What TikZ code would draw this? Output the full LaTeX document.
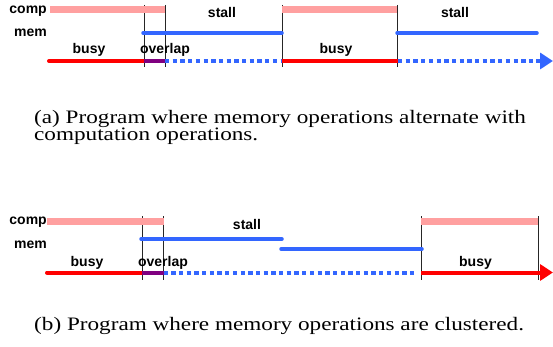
\documentclass[tikz,border=0pt]{standalone}
\usepackage{fontspec}
\setmainfont{Liberation Serif}
\setsansfont{Liberation Sans}
\usepackage{graphicx}
\usetikzlibrary{arrows.meta}

\definecolor{compPink}{RGB}{255,160,160}
\definecolor{memBlue}{RGB}{51,102,255}
\definecolor{busyRed}{RGB}{255,0,0}
\definecolor{overPurple}{RGB}{128,0,128}

\begin{document}
\begin{tikzpicture}[
    x=1pt, y=-1pt,
    lbl/.style={font=\sffamily\bfseries\fontsize{14}{14}\selectfont, inner sep=0pt},
    compbar/.style={compPink, line width=7pt},
    memline/.style={memBlue, line width=3.5pt, line cap=round},
    busyline/.style={busyRed, line width=4pt},
    waitline/.style={memBlue, line width=4pt, dash pattern=on 4.3pt off 3.4pt},
    overline/.style={overPurple, line width=4pt},
    marker/.style={black!85, line width=0.8pt},
    tip/.style={-{Triangle[length=13pt, width=16pt]}},
    captext/.style={font=\fontsize{19}{19}\selectfont, inner sep=0pt, anchor=base west}
]
    \useasboundingbox (0,0) rectangle (553,347);

    % ================= (a) ALTERNATING =================
    \draw[marker] (144,5) -- (144,67);
    \draw[marker] (165,5) -- (165,67);
    \draw[marker] (282,5) -- (282,67);
    \draw[marker] (397,5) -- (397,67);

    \draw[compbar] (50,10) -- (165,10);
    \draw[compbar] (282,10) -- (397,10);

    \draw[memline] (143,33) -- (282,33);
    \draw[memline] (397,33) -- (537,33);

    \draw[busyline, line cap=round] (49,61) -- (144,61);
    \draw[overline] (144,61) -- (165,61);
    \draw[waitline] (165,61) -- (282,61);
    \draw[busyline] (282,61) -- (398,61);
    \draw[waitline] (398,61) -- (541,61);
    \draw[memBlue, line width=4pt, tip] (536,61) -- (553,61);

    \node[lbl, anchor=base east] (compA) at (47,13.5) {comp};
    \node[lbl, anchor=base east] (memA) at (47,36.5) {mem};
    \node[lbl, anchor=base] (stallA1) at (222,17.3) {stall};
    \node[lbl, anchor=base] (stallA2) at (455,17.3) {stall};
    \node[lbl, anchor=base] (busyA1) at (89,53.3) {busy};
    \node[lbl, anchor=base] (overA) at (165,53.3) {overlap};
    \node[lbl, anchor=base] (busyA2) at (336,53.3) {busy};

    \node[captext] (capA1) at (34,124) {\scalebox{1.22}[1]{(a) Program where memory operations alternate with}};
    \node[captext] (capA2) at (34,141) {\scalebox{1.22}[1]{computation operations.}};

    % ================= (b) CLUSTERED =================
    \draw[marker] (142.5,216) -- (142.5,280);
    \draw[marker] (163.5,216) -- (163.5,280);
    \draw[marker] (421,216) -- (421,280);
    \draw[marker] (538,216) -- (538,280);

    \draw[compbar] (47,221.5) -- (164,221.5);
    \draw[compbar] (421,221.5) -- (538,221.5);

    \draw[memline] (141,239) -- (282,239);
    \draw[memline] (281,249) -- (422,249);

    \draw[busyline, line cap=round] (47,272.5) -- (142,272.5);
    \draw[overline] (142,272.5) -- (163.5,272.5);
    \draw[waitline] (163.5,272.5) -- (416,272.5);
    \draw[busyline, tip] (421,272.5) -- (553,272.5);

    \node[lbl, anchor=base east] (compB) at (47,224) {comp};
    \node[lbl, anchor=base east] (memB) at (47,248) {mem};
    \node[lbl, anchor=base] (stallB) at (247,229) {stall};
    \node[lbl, anchor=base] (busyB1) at (87,266.7) {busy};
    \node[lbl, anchor=base] (overB) at (163,266.7) {overlap};
    \node[lbl, anchor=base] (busyB2) at (475.5,266.7) {busy};

    \node[captext] (capB) at (34,330) {\scalebox{1.22}[1]{(b) Program where memory operations are clustered.}};
\end{tikzpicture}
\end{document}
